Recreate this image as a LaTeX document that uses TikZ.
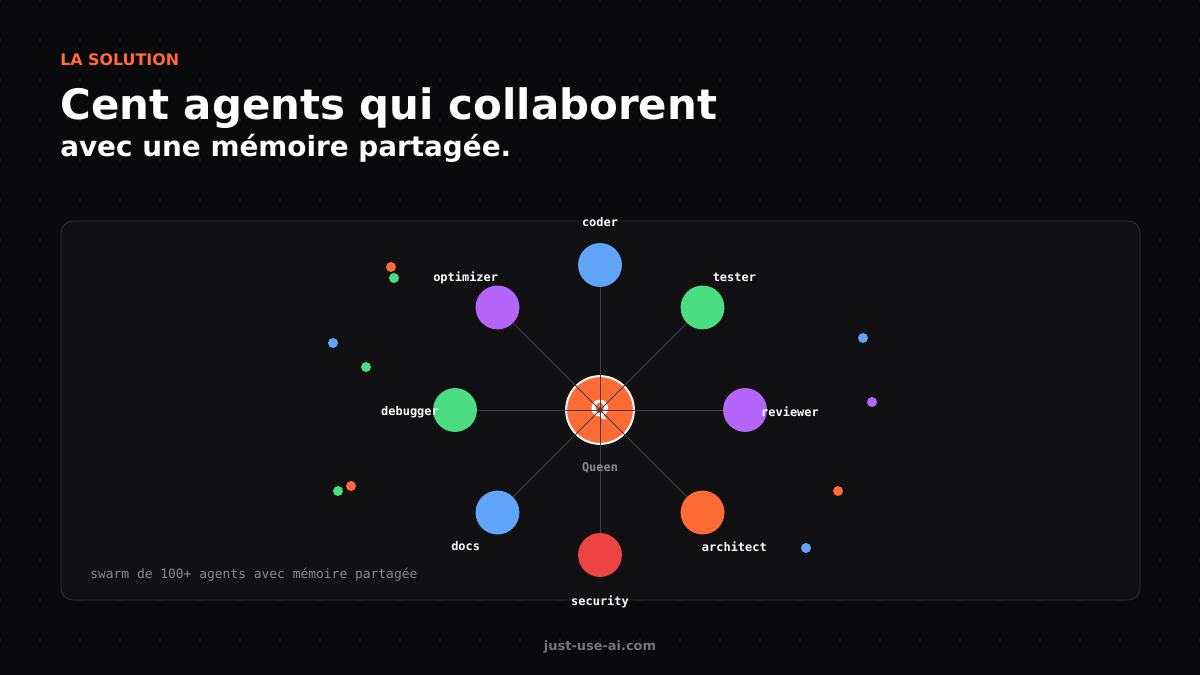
\documentclass[tikz,border=0pt]{standalone}
\usepackage{fontspec}
\setmainfont{DejaVu Sans}
\newfontfamily\agentmono{DejaVu Sans Mono}
\definecolor{bgdark}{HTML}{0A0A0C}
\definecolor{griddot}{HTML}{2A2A2F}
\definecolor{panelbg}{HTML}{111113}
\definecolor{panelline}{HTML}{2C2C31}
\definecolor{linkgrey}{HTML}{3C404A}
\definecolor{cblue}{HTML}{60A5FA}
\definecolor{cgreen}{HTML}{4ADE80}
\definecolor{cpurple}{HTML}{B366F9}
\definecolor{corange}{HTML}{FF6B35}
\definecolor{cred}{HTML}{EF4444}
\definecolor{softgrey}{HTML}{8A8A8E}
\tikzset{
  agent/.style={circle, minimum size=31.2pt, inner sep=0pt},
  agentlbl/.style={text=white, yshift=-1.5pt, font=\agentmono\bfseries\fontsize{8.5}{10}\selectfont},
  link/.style={draw=linkgrey, line width=0.6pt},
  speck/.style={radius=5}
}

\begin{document}
\begin{tikzpicture}[x=0.025cm, y=-0.025cm]
      \useasboundingbox (0,0) rectangle (1200,675);
      \fill[bgdark] (0,0) rectangle (1200,675);
      \foreach \gx in {0,40,...,1200}
        \foreach \gy in {0,40,...,675}
          \fill[griddot] (\gx,\gy) circle[radius=1.2];
      \node[anchor=base west, inner sep=0pt, text=corange, font=\bfseries\fontsize{11.3}{13}\selectfont] (kicker) at (60,66) {LA SOLUTION};
      \node[anchor=base west, inner sep=0pt, text=white, font=\bfseries\fontsize{29.8}{34}\selectfont] (title) at (60,120) {Cent agents qui collaborent};
      \node[anchor=base west, inner sep=0pt, text=white, font=\bfseries\fontsize{19.8}{23}\selectfont] (subtitle) at (60,157) {avec une mémoire partagée.};
      \draw[panelline, fill=panelbg, rounded corners=8.5pt, line width=0.7pt] (61,221) rectangle (1140,600);
      \begin{scope}[shift={(600,410)}]
        \node[circle, fill=corange, draw=white, line width=1.4pt, minimum size=48.2pt, inner sep=0pt, text=white, font=\bfseries\fontsize{15.5}{17}\selectfont] (queen) at (0,0) {Q};
        \foreach \n/\a/\c in {coder/-90/cblue, tester/-45/cgreen, reviewer/0/cpurple, architect/45/corange, security/90/cred, docs/135/cblue, debugger/180/cgreen, optimizer/-135/cpurple}
          \node[agent, fill=\c] (\n) at (\a:145) {};
        \foreach \n in {coder, tester, reviewer, architect, security, docs, debugger, optimizer}
          \draw[link] (queen.center) -- (\n);
        \fill[linkgrey] (queen.center) circle[radius=2.5];
        \foreach \n/\a in {coder/-90, tester/-45, reviewer/0, architect/45, security/90, docs/135, debugger/180, optimizer/-135}
          \node[agentlbl] (\n-lbl) at (\a:190) {\n};
        \node[text=softgrey, yshift=-1.5pt, font=\agentmono\bfseries\fontsize{8.5}{10}\selectfont] (queen-lbl) at (0,56) {Queen};
      \end{scope}
      \fill[corange] (391,267) circle[speck];
      \fill[cgreen] (394,278) circle[speck];
      \fill[cblue] (333,343) circle[speck];
      \fill[cgreen] (366,367) circle[speck];
      \fill[cgreen] (338,491) circle[speck];
      \fill[corange] (351,486) circle[speck];
      \fill[cblue] (863,338) circle[speck];
      \fill[cpurple] (872,402) circle[speck];
      \fill[corange] (838,491) circle[speck];
      \fill[cblue] (806,548) circle[speck];
      \node[anchor=west, inner sep=0pt, text=softgrey, font=\agentmono\fontsize{9.2}{11}\selectfont] (caption) at (90,574.5) {swarm de 100+ agents avec mémoire partagée};
      \node[text=softgrey!85!black, font=\bfseries\fontsize{9.2}{11}\selectfont] (footer) at (600,647) {just-use-ai.com};
    \end{tikzpicture}
\end{document}
